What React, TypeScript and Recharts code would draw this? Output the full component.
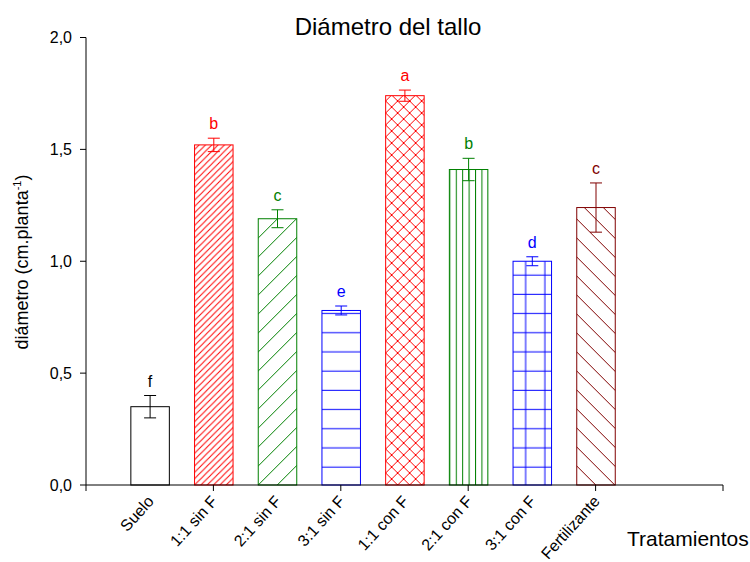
import { BarChart, Bar, XAxis, YAxis } from "recharts";

// Treatments along the x axis, in order
const treatments = [
  "Suelo",
  "1:1 sin F",
  "2:1 sin F",
  "3:1 sin F",
  "1:1 con F",
  "2:1 con F",
  "3:1 con F",
  "Fertilizante",
];

// Mean stem diameter (cm.planta-1) and its error
const diameter = [0.35, 1.52, 1.19, 0.78, 1.74, 1.41, 1.0, 1.24];
const errors = [0.05, 0.03, 0.04, 0.02, 0.025, 0.05, 0.02, 0.11];

// Significance letters over each bar
const letters = ["f", "b", "c", "e", "a", "b", "d", "c"];

const yTicks = [0, 0.5, 1, 1.5, 2];
const xTicks = [0, 1, 2, 3, 4, 5, 6, 7, 8, 9, 10];

const colors = [
  "#000000",
  "#ff0000",
  "#008000",
  "#0000ff",
  "#ff0000",
  "#008000",
  "#0000ff",
  "#800000",
];
const hatches = ["none", "fwdDense", "fwd", "horiz", "cross", "vert", "grid", "back"];

const rows = treatments.map((name, i) => ({
  pos: i + 1,
  name,
  diam: diameter[i],
  err: errors[i],
  letter: letters[i],
}));

const FONT = '"Liberation Sans", Arial, sans-serif';

function fwdPath(s: number) {
  return `M-1,1 L1,-1 M0,${s} L${s},0 M${s - 1},${s + 1} L${s + 1},${s - 1}`;
}
function backPath(s: number) {
  return `M-1,${s - 1} L1,${s + 1} M0,0 L${s},${s} M${s - 1},-1 L${s + 1},1`;
}

function HatchDef({ kind, id, color, x0, y0, w }: any) {
  const base = { id, patternUnits: "userSpaceOnUse" as const, x: x0, y: y0 };
  const line = { stroke: color, strokeWidth: 1, fill: "none" };
  if (kind === "fwdDense" || kind === "fwd" || kind === "back" || kind === "cross") {
    const s = kind === "fwdDense" ? 6.33 : kind === "cross" ? 12 : 19;
    return (
      <pattern {...base} width={s} height={s}>
        <rect width={s} height={s} fill="#fff" />
        {kind !== "back" && <path d={fwdPath(s)} {...line} />}
        {(kind === "back" || kind === "cross") && <path d={backPath(s)} {...line} />}
      </pattern>
    );
  }
  if (kind === "horiz" || kind === "grid") {
    const s = 19.2;
    return (
      <pattern {...base} width={s} height={s}>
        <rect width={s} height={s} fill="#fff" />
        <path d={`M0,1.3 H${s}`} {...line} />
        {kind === "grid" && <path d={`M12.6,0 V${s}`} {...line} />}
      </pattern>
    );
  }
  if (kind === "vert") {
    const s = w / 6;
    return (
      <pattern {...base} width={s} height={20}>
        <rect width={s} height={20} fill="#fff" />
        <path d={`M0.5,0 V20`} {...line} />
      </pattern>
    );
  }
  return null;
}

function HatchedBar(props: any) {
  const { x, y, width, height, index, payload } = props;
  const color = colors[index];
  const kind = hatches[index];
  const id = `hatch-${index}`;
  const bottom = y + height;
  const perUnit = height / payload.diam;
  const errTop = y - payload.err * perUnit;
  const errBot = y + payload.err * perUnit;
  const cx = x + width / 2;
  return (
    <g>
      <defs>
        <HatchDef kind={kind} id={id} color={color} x0={x} y0={bottom} w={width} />
      </defs>
      <rect
        x={x}
        y={y}
        width={width}
        height={height}
        fill={kind === "none" ? "#fff" : `url(#${id})`}
        stroke={color}
        strokeWidth={1}
      />
      <g stroke={color} strokeWidth={1}>
        <line x1={cx} x2={cx} y1={errTop} y2={errBot} />
        <line x1={cx - 6} x2={cx + 6} y1={errTop} y2={errTop} />
        <line x1={cx - 6} x2={cx + 6} y1={errBot} y2={errBot} />
      </g>
      <text x={cx} y={errTop - 9} textAnchor="middle" fill={color} fontSize={16} fontFamily={FONT}>
        {payload.letter}
      </text>
    </g>
  );
}

function CategoryTick(props: any) {
  const { x, y, payload } = props;
  const v = payload.value;
  const name = treatments[v - 1];
  const tx = x + 5;
  const ty = y + 17;
  return (
    <g>
      {v % 2 === 0 && <line x1={x} x2={x} y1={y} y2={y + 6} stroke="#000" />}
      {name && (
        <text
          x={tx}
          y={ty}
          textAnchor="end"
          fontSize={16}
          fill="#000"
          fontFamily={FONT}
          transform={`rotate(-48 ${tx} ${ty})`}
        >
          {name}
        </text>
      )}
    </g>
  );
}

export default function App() {
  return (
    <div
      style={{
        position: "absolute",
        left: 0,
        top: 0,
        width: 750,
        height: 562,
        background: "#fff",
        fontFamily: FONT,
      }}
    >
      <BarChart
        width={750}
        height={562}
        data={rows}
        margin={{ top: 37.5, right: 27, left: 26, bottom: 37 }}
      >
        <XAxis
          dataKey="pos"
          type="number"
          domain={[0, 10]}
          ticks={xTicks}
          interval={0}
          height={40}
          tickLine={false}
          tickSize={0}
          tickMargin={0}
          axisLine={{ stroke: "#000" }}
          tick={<CategoryTick />}
        />
        <YAxis
          type="number"
          domain={[0, 2]}
          ticks={yTicks}
          width={60}
          tickSize={6}
          tickMargin={8}
          axisLine={{ stroke: "#000" }}
          tickLine={{ stroke: "#000" }}
          tick={{ fill: "#000", fontSize: 16, fontFamily: FONT }}
          tickFormatter={(v: number) => v.toFixed(1).replace(".", ",")}
        />
        <Bar dataKey="diam" barSize={38.5} isAnimationActive={false} shape={<HatchedBar />} />
      </BarChart>
      <svg
        width={750}
        height={562}
        style={{ position: "absolute", left: 0, top: 0, pointerEvents: "none" }}
      >
        <text x={388} y={34.5} textAnchor="middle" fontSize={24} fill="#000" fontFamily={FONT}>
          Diámetro del tallo
        </text>
        <text
          x={28}
          y={262}
          textAnchor="middle"
          fontSize={18}
          fill="#000"
          fontFamily={FONT}
          transform="rotate(-90 28 262)"
        >
          diámetro (cm.planta
          <tspan dy={-7} fontSize={11}>
            -1
          </tspan>
          <tspan dy={7}>)</tspan>
        </text>
        <text x={627} y={546} fontSize={21} fill="#000" fontFamily={FONT}>
          Tratamientos
        </text>
      </svg>
    </div>
  );
}
